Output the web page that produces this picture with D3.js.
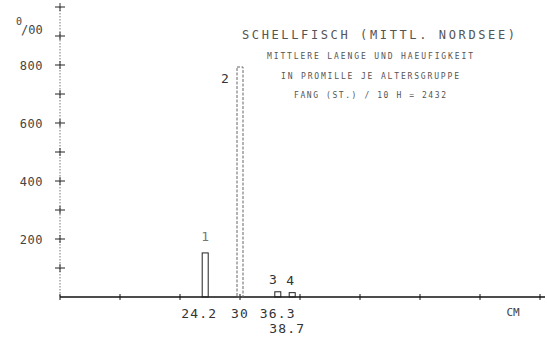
<!DOCTYPE html>
<html><head><meta charset="utf-8">
<script src="https://cdn.jsdelivr.net/npm/d3@7/dist/d3.min.js"></script>
<style>body{margin:0;background:#fff}svg{display:block}</style>
</head><body>
<svg id="c" width="547" height="339"></svg>
<script>
// Data
const ageGroups = ["1", "2", "3", "4"];
const meanLength = [24.2, 30, 36.3, 38.7];
const perMille = [152, 793, 18, 15];
const yTickLabels = [200, 400, 600, 800];
const xLabelText = ["24.2", "30", "36.3", "38.7"];
const titleText = "SCHELLFISCH (MITTL. NORDSEE)";
const subLines = ["MITTLERE LAENGE UND HAEUFIGKEIT", "IN PROMILLE JE ALTERSGRUPPE", "FANG (ST.) / 10 H = 2432"];

const svg = d3.select("#c");
const font = "'DejaVu Sans Mono', monospace";
const x = d3.scaleLinear().domain([0, 80]).range([60, 540]);
const y = d3.scaleLinear().domain([0, 1000]).range([297, 7]);

// y axis (dotted) with cross ticks
svg.append("line").attr("x1", x(0)).attr("x2", x(0)).attr("y1", y(1000)).attr("y2", y(0))
  .attr("stroke", "#777").attr("stroke-width", 1).attr("stroke-dasharray", "1.5,1.5");
const yTicks = d3.range(100, 1001, 100);
svg.selectAll(".yt").data(yTicks).join("line")
  .attr("x1", x(0) - 5).attr("x2", x(0) + 5)
  .attr("y1", d => y(d)).attr("y2", d => y(d))
  .attr("stroke", "#222").attr("stroke-width", 1);
svg.selectAll(".ytv").data(yTicks).join("line")
  .attr("x1", x(0)).attr("x2", x(0))
  .attr("y1", d => y(d) - 4).attr("y2", d => y(d) + 4)
  .attr("stroke", "#333").attr("stroke-width", 1);
svg.selectAll(".yl").data(yTickLabels).join("text")
  .attr("x", 43).attr("y", d => y(d) + 5)
  .attr("text-anchor", "end").attr("font-family", font).attr("font-size", 12)
  .attr("letter-spacing", 0.5).attr("fill", "#444").text(d => d);
// per mille unit label
const u = svg.append("text").attr("font-family", font).attr("fill", "#444");
u.append("tspan").attr("x", 16).attr("y", 25).attr("font-size", 10).text("0");
u.append("tspan").attr("x", 21).attr("y", 34).attr("font-size", 12).text("/00");

// x axis
svg.append("line").attr("x1", x(0)).attr("x2", 545).attr("y1", y(0)).attr("y2", y(0))
  .attr("stroke", "#111").attr("stroke-width", 1.4);
svg.selectAll(".xt").data(d3.range(0, 81, 10)).join("line")
  .attr("x1", d => x(d)).attr("x2", d => x(d))
  .attr("y1", y(0) - 3).attr("y2", y(0) + 3)
  .attr("stroke", "#111").attr("stroke-width", 1);

// bars (1 cm wide, centred on mean length)
svg.selectAll(".bar").data(perMille).join("rect")
  .attr("x", (d, i) => x(meanLength[i] - 0.5))
  .attr("width", x(1) - x(0))
  .attr("y", d => y(d))
  .attr("height", d => y(0) - y(d))
  .attr("fill", "none").attr("stroke", (d, i) => i === 1 ? "#666" : "#222")
  .attr("stroke-width", 1)
  .attr("stroke-dasharray", (d, i) => i === 1 ? "3,1.5" : null);

// age group labels
const gOff = [[0, -12], [-15, 16], [-5, -8], [-2, -8]];
svg.selectAll(".gl").data(ageGroups).join("text")
  .attr("x", (d, i) => x(meanLength[i]) + gOff[i][0])
  .attr("y", (d, i) => y(perMille[i]) + gOff[i][1])
  .attr("text-anchor", "middle").attr("font-family", font).attr("font-size", 13)
  .attr("fill", (d, i) => i === 0 ? "#777" : "#333").text(d => d);

// x labels
const xRow = [318, 318, 318, 333];
const xOff = [-6, 0, 0, -5];
svg.selectAll(".xl").data(xLabelText).join("text")
  .attr("x", (d, i) => x(meanLength[i]) + xOff[i])
  .attr("y", (d, i) => xRow[i])
  .attr("text-anchor", "middle").attr("font-family", font).attr("font-size", 13)
  .attr("letter-spacing", 1.2).attr("fill", "#333").text(d => d);
svg.append("text").attr("x", 513).attr("y", 316).attr("text-anchor", "middle")
  .attr("font-family", font).attr("font-size", 11).attr("fill", "#444").text("CM");

// titles
svg.append("text").attr("x", 242).attr("y", 39).attr("font-family", font)
  .attr("font-size", 12).attr("fill", "#555")
  .attr("textLength", 273).attr("lengthAdjust", "spacing").text(titleText);
const subW = [206, 178, 152];
const subY = [59, 79, 98];
svg.selectAll(".sub").data(subLines).join("text")
  .attr("x", (d, i) => 370 - subW[i] / 2).attr("y", (d, i) => subY[i])
  .attr("font-family", font).attr("font-size", 8).attr("fill", "#555")
  .attr("textLength", (d, i) => subW[i]).attr("lengthAdjust", "spacing").text(d => d);
</script>
</body></html>
